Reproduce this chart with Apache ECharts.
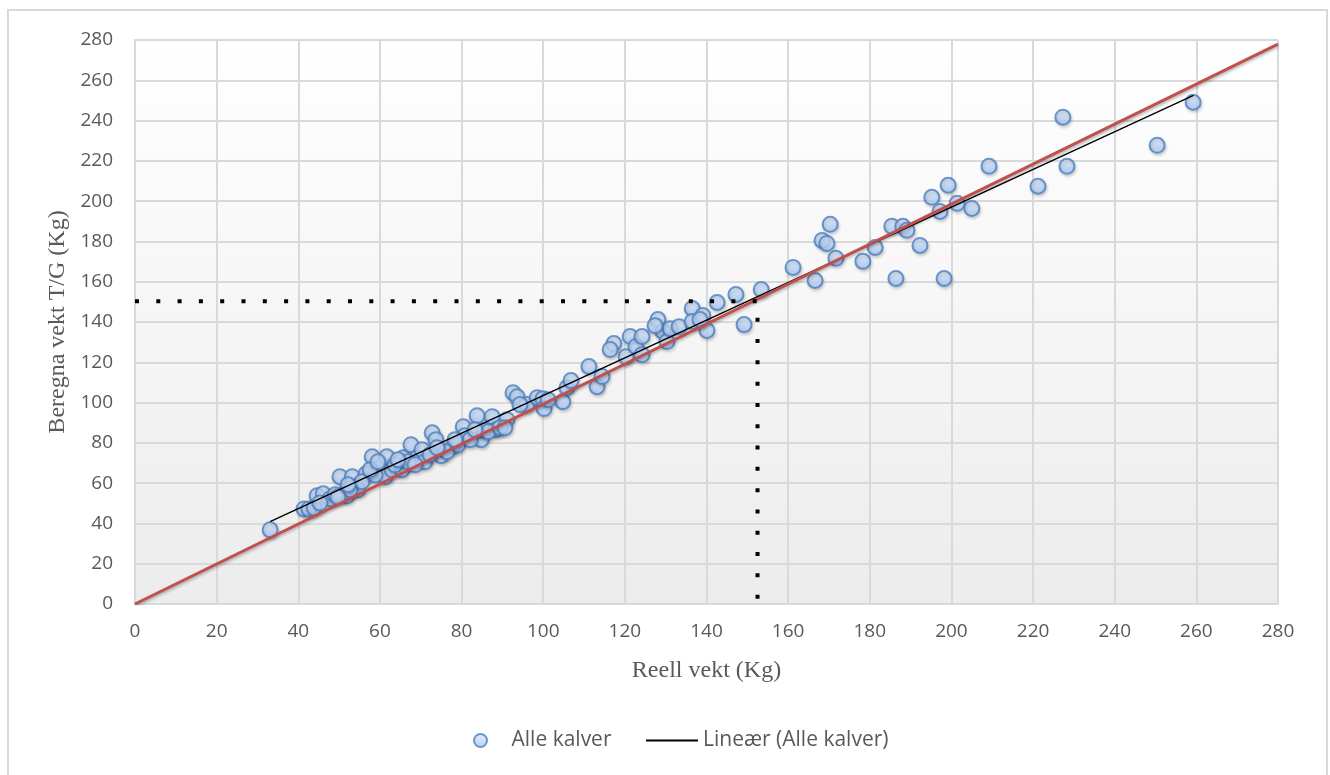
<!DOCTYPE html>
<html>
<head>
<meta charset="utf-8">
<title>Reell vs beregnet vekt</title>
<script src="https://cdn.jsdelivr.net/npm/echarts@6/dist/echarts.min.js"></script>
<style>
  html, body { margin: 0; padding: 0; background: #ffffff; }
  #chart { width: 1330px; height: 775px; }
</style>
</head>
<body>
<div id="chart"></div>
<script>
// Measured weight (x) against weight estimated from chest girth T/G (y), in kg
const realWeight = [
  33.1, 41.4, 42.6, 43.9, 44.6, 46.1, 47.8, 50.2, 51.2, 51.9,
  53.2, 54.1, 54.6, 56.6, 58.1, 60.5, 61.3, 61.7, 63.0, 65.4,
  65.7, 67.6, 69.1, 70.3, 72.8, 73.7, 75.0, 77.9, 80.4, 80.8,
  83.8, 84.8, 85.5, 87.5, 88.4, 91.1, 92.6, 93.6, 96.0, 98.5,
  99.9, 100.2, 104.8, 105.8, 106.8, 111.2, 113.2, 114.4, 117.3, 120.3,
  121.3, 122.7, 124.2, 124.2, 128.1, 129.3, 130.3, 131.1, 133.3, 136.5,
  136.5, 139.1, 140.1, 142.6, 147.2, 149.2, 153.4, 161.2, 166.6, 168.3,
  169.5, 170.3, 171.7, 178.3, 181.3, 185.4, 186.4, 188.1, 189.1, 192.3,
  195.2, 197.2, 199.2, 198.2, 201.4, 205.0, 209.2, 221.2, 227.3, 228.3,
  250.4, 259.2,
  49.0, 52.7, 55.6, 58.8, 63.7, 66.9, 71.0, 72.3, 76.4, 79.1,
  82.1, 86.5, 89.4, 94.3, 101.2, 127.4, 138.4,
  45.3, 49.7, 52.2, 57.6, 59.5, 64.4, 68.6, 74.0, 78.4, 83.3,
  90.6, 116.4
];
const calcWeight = [
  36.8, 47.2, 47.2, 47.7, 53.7, 54.7, 52.2, 63.2, 54.7, 53.7,
  63.2, 58.2, 56.7, 64.6, 73.1, 68.1, 63.2, 73.1, 66.6, 66.6,
  72.6, 79.1, 72.6, 76.6, 85.0, 81.6, 73.6, 78.1, 88.0, 83.5,
  93.5, 81.6, 86.0, 93.0, 86.5, 91.5, 104.9, 102.9, 99.0, 102.4,
  101.9, 97.0, 100.4, 107.4, 110.9, 117.9, 107.9, 112.9, 129.3, 122.8,
  132.8, 127.8, 132.8, 123.8, 141.2, 135.3, 130.3, 136.7, 137.7, 146.7,
  140.2, 143.2, 135.8, 149.7, 153.7, 138.7, 156.1, 167.1, 160.6, 180.5,
  179.0, 188.5, 171.6, 170.1, 177.0, 187.5, 161.6, 187.5, 185.5, 178.0,
  201.9, 194.9, 207.9, 161.6, 198.9, 196.4, 217.3, 207.4, 241.7, 217.3,
  227.7, 249.1,
  54.2, 56.7, 60.7, 64.1, 69.1, 70.6, 70.6, 74.1, 75.6, 79.1,
  81.6, 85.5, 87.5, 99.0, 101.4, 138.2, 141.2,
  50.2, 53.2, 59.2, 66.6, 70.6, 71.6, 69.1, 77.6, 81.6, 86.5,
  87.5, 126.3
];

// Linear trend line end points
const trendX = [33.1, 259.3];
const trendY = [40.9, 252.5];

// Reference line (estimate equal to measured weight)
const identityX = [0, 280];
const identityY = [0, 278];

// Dotted guide to the point read at 150 kg
const guideX = [0, 152.5, 152.5];
const guideY = [150.3, 150.3, 0];

// Axis range and tick step
const axisMin = 0;
const axisMax = 280;
const tickStep = 20;

const seriesNames = ['Alle kalver', 'Lineær (Alle kalver)'];
const xTitle = 'Reell vekt (Kg)';
const yTitle = 'Beregna vekt T/G (Kg)';

const pairs = (xs, ys) => xs.map((x, i) => [x, ys[i]]);

const chart = echarts.init(document.getElementById('chart'), null, { renderer: 'canvas' });

const tickFont = { color: '#595959', fontFamily: 'Open Sans', fontSize: 19 };
const titleFont = { color: '#595959', fontFamily: 'Liberation Serif', fontSize: 24 };
const legendFont = { color: '#595959', fontFamily: 'Open Sans', fontSize: 21 };
const gridLine = { show: true, lineStyle: { color: '#d9d9d9', width: 2 } };

chart.setOption({
  animation: false,
  backgroundColor: '#ffffff',
  graphic: [{
    type: 'rect',
    shape: { x: 8, y: 10, width: 1319, height: 800 },
    style: { fill: 'none', stroke: '#d9d9d9', lineWidth: 2 },
    silent: true,
    z: -10
  }],
  grid: {
    left: 135,
    right: 52,
    top: 40,
    bottom: 171,
    show: true,
    borderWidth: 0,
    backgroundColor: new echarts.graphic.LinearGradient(0, 0, 0, 1, [
      { offset: 0, color: '#ffffff' },
      { offset: 1, color: '#ececec' }
    ])
  },
  legend: [
    {
      data: [{ name: seriesNames[0], icon: 'circle' }],
      left: 468,
      top: 725,
      itemWidth: 52,
      itemHeight: 13,
      textStyle: legendFont
    },
    {
      data: [{ name: seriesNames[1], icon: 'rect', itemStyle: { color: '#000000' } }],
      left: 641,
      top: 725,
      itemWidth: 52,
      itemHeight: 2,
      textStyle: legendFont
    }
  ],
  xAxis: {
    type: 'value',
    min: axisMin,
    max: axisMax,
    interval: tickStep,
    name: xTitle,
    nameLocation: 'middle',
    nameGap: 55,
    nameTextStyle: titleFont,
    axisLine: { show: true, lineStyle: { color: '#d9d9d9', width: 2 } },
    axisTick: { show: false },
    axisLabel: Object.assign({ margin: 18 }, tickFont),
    splitLine: gridLine
  },
  yAxis: {
    type: 'value',
    min: axisMin,
    max: axisMax,
    interval: tickStep,
    name: yTitle,
    nameLocation: 'middle',
    nameGap: 65,
    nameTextStyle: titleFont,
    axisLine: { show: true, lineStyle: { color: '#d9d9d9', width: 2 } },
    axisTick: { show: false },
    axisLabel: Object.assign({ margin: 22 }, tickFont),
    splitLine: gridLine
  },
  series: [
    {
      name: seriesNames[0],
      type: 'scatter',
      data: pairs(realWeight, calcWeight),
      symbol: 'circle',
      symbolSize: 15,
      z: 2,
      itemStyle: {
        color: new echarts.graphic.LinearGradient(0, 0, 0, 1, [
          { offset: 0, color: '#e2edfe' },
          { offset: 1, color: '#a3c3f4' }
        ]),
        borderColor: '#4a7fc1',
        borderWidth: 2,
        shadowColor: 'rgba(0,0,0,0.2)',
        shadowBlur: 3,
        shadowOffsetX: 1,
        shadowOffsetY: 2
      }
    },
    {
      name: seriesNames[1],
      type: 'line',
      data: pairs(trendX, trendY),
      symbol: 'none',
      z: 4,
      lineStyle: { color: '#000000', width: 1.5 },
      itemStyle: { color: '#000000' }
    },
    {
      name: 'identitet',
      type: 'line',
      data: pairs(identityX, identityY),
      symbol: 'none',
      z: 5,
      lineStyle: {
        color: '#c0504d',
        width: 3,
        shadowColor: 'rgba(0,0,0,0.3)',
        shadowBlur: 3,
        shadowOffsetY: 2
      }
    },
    {
      name: 'hjelpelinje',
      type: 'line',
      data: pairs(guideX, guideY),
      symbol: 'none',
      z: 6,
      lineStyle: {
        color: '#000000',
        width: 4,
        type: [4, 17.3],
        cap: 'butt',
        join: 'miter'
      }
    }
  ]
});
</script>
</body>
</html>
